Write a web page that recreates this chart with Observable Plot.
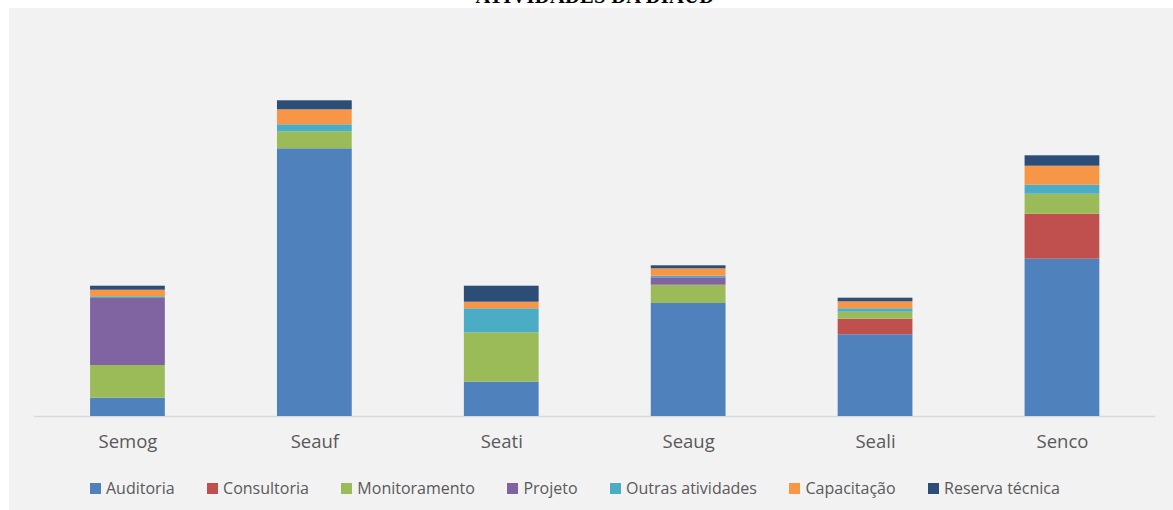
<!DOCTYPE html>
<html>
<head>
<meta charset="utf-8">
<script src="https://cdn.jsdelivr.net/npm/d3@7"></script>
<script src="https://cdn.jsdelivr.net/npm/@observablehq/plot@0.6"></script>
<style>
  html, body { margin: 0; padding: 0; background: #ffffff; }
  #wrap { position: relative; width: 1173px; height: 510px; overflow: hidden; background: #ffffff; }
  #panel { position: absolute; left: 9px; top: 8px; right: 0; bottom: 0; background: #f2f2f2; }
  #title { position: absolute; left: 0; width: 1190px; top: -14px; text-align: center;
           font-family: "Liberation Serif", "DejaVu Serif", serif; font-weight: bold; font-size: 20.5px;
           line-height: 20.5px; color: #000; letter-spacing: 0.3px; }
  #chart { position: absolute; left: 0; top: 0; }
  #legend { position: absolute; left: 90px; top: 477px; display: flex; align-items: center;
            font-family: "Open Sans", sans-serif; font-size: 16px; color: #595959; white-space: nowrap; }
  .item { display: flex; align-items: center; margin-right: 32.5px; }
  .sw { width: 11px; height: 11px; margin-right: 5px; display: inline-block; }
</style>
</head>
<body>
<div id="wrap">
  <div id="panel"></div>
  <div id="title">ATIVIDADES DA DIAUD</div>
  <div id="chart"></div>
  <div id="legend"></div>
</div>
<script>
const categories = ["Semog", "Seauf", "Seati", "Seaug", "Seali", "Senco"];
const series = ["Auditoria", "Consultoria", "Monitoramento", "Projeto", "Outras atividades", "Capacitação", "Reserva técnica"];
const colors = ["#4f81bd", "#c0504d", "#9bbb59", "#8064a2", "#4bacc6", "#f79646", "#2c4d75"];

const auditoria      = [18.3, 267.7, 34.3, 113.0, 81.7, 157.3];
const consultoria    = [0,    0,     0,    0,     15.6, 45.0];
const monitoramento  = [32.7, 17.0,  49.4, 18.3,  7.0,  20.0];
const projeto        = [67.0, 0,     0,    7.4,   0,    0];
const outras         = [1.7,  7.0,   24.0, 1.6,   3.4,  9.0];
const capacitacao    = [6.6,  15.0,  6.6,  7.4,   7.0,  19.0];
const reserva        = [4.0,  9.0,   16.0, 3.0,   3.6,  10.4];

const values = [auditoria, consultoria, monitoramento, projeto, outras, capacitacao, reserva];

const data = series.flatMap((s, i) =>
  categories.map((c, j) => ({ category: c, series: s, value: values[i][j] }))
);

const chart = Plot.plot({
  width: 1173,
  height: 460,
  marginTop: 86,
  marginBottom: 44,
  marginLeft: 34,
  marginRight: 17.6,
  style: { background: "transparent", fontFamily: "'Open Sans', sans-serif", color: "#595959" },
  x: { domain: categories, paddingInner: 0.6, paddingOuter: 0.3, round: false, label: null, axis: null },
  y: { domain: [0, 330], axis: null },
  color: { domain: series, range: colors },
  marks: [
    Plot.ruleY([0], { stroke: "#d9d9d9", strokeWidth: 1.5 }),
    Plot.barY(data, { x: "category", y: "value", fill: "series", z: "series" }),
    Plot.axisX({ tickSize: 0, tickPadding: 18, fontSize: 18.5, label: null, fill: "#595959" })
  ]
});
document.getElementById("chart").appendChild(chart);

const legend = document.getElementById("legend");
series.forEach((s, i) => {
  const item = document.createElement("div");
  item.className = "item";
  const sw = document.createElement("span");
  sw.className = "sw";
  sw.style.background = colors[i];
  const t = document.createElement("span");
  t.textContent = s;
  item.appendChild(sw);
  item.appendChild(t);
  legend.appendChild(item);
});
</script>
</body>
</html>
